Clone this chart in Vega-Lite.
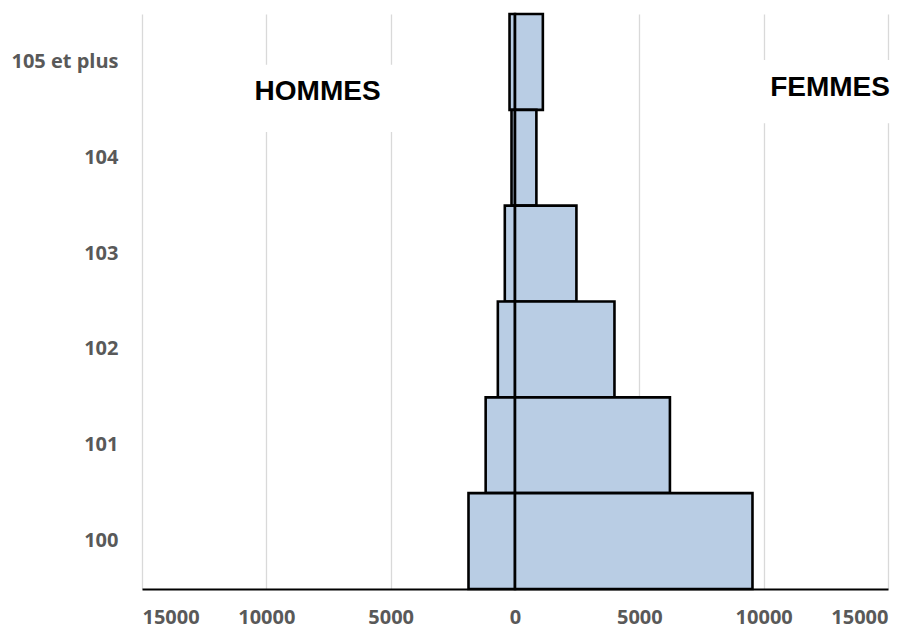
{
  "$schema": "https://vega.github.io/schema/vega-lite/v6.json",
  "autosize": "none",
  "width": 746,
  "height": 575,
  "padding": {"left": 142, "top": 14, "right": 32, "bottom": 40},
  "background": "white",
  "config": {"view": {"stroke": null}},
  "datasets": {
    "pop": [
      {"age": "105 et plus", "sexe": "Hommes", "effectif": -220},
      {"age": "105 et plus", "sexe": "Femmes", "effectif": 1120},
      {"age": "104", "sexe": "Hommes", "effectif": -140},
      {"age": "104", "sexe": "Femmes", "effectif": 860},
      {"age": "103", "sexe": "Hommes", "effectif": -410},
      {"age": "103", "sexe": "Femmes", "effectif": 2470},
      {"age": "102", "sexe": "Hommes", "effectif": -690},
      {"age": "102", "sexe": "Femmes", "effectif": 4000},
      {"age": "101", "sexe": "Hommes", "effectif": -1180},
      {"age": "101", "sexe": "Femmes", "effectif": 6230},
      {"age": "100", "sexe": "Hommes", "effectif": -1870},
      {"age": "100", "sexe": "Femmes", "effectif": 9550}
    ],
    "labels": [
      {"label": "HOMMES", "x": -7940, "x0": -10900, "x1": -4700, "y": 5.19, "y0": 4.77, "y1": 5.47},
      {"label": "FEMMES", "x": 12670, "x0": 9800, "x1": 15300, "y": 5.23, "y0": 4.86, "y1": 5.52}
    ]
  },
  "layer": [
    {
      "data": {"name": "pop"},
      "mark": {"type": "bar", "fill": "#b9cde4", "stroke": "#000000", "strokeWidth": 2.6},
      "encoding": {
        "y": {
          "field": "age", "type": "nominal",
          "sort": ["105 et plus", "104", "103", "102", "101", "100"],
          "scale": {"paddingInner": 0, "paddingOuter": 0},
          "axis": {
            "title": null, "domain": false, "ticks": false, "grid": false,
            "labelFont": "Open Sans", "labelFontWeight": "bold", "labelFontSize": 20,
            "labelColor": "#595959", "labelPadding": 24
          }
        },
        "x": {
          "field": "effectif", "type": "quantitative", "stack": null,
          "scale": {"domain": [-15000, 15000], "nice": false, "zero": true},
          "axis": {
            "title": null,
            "values": [-15000, -10000, -5000, 0, 5000, 10000, 15000],
            "labelExpr": "format(abs(datum.value), 'd')",
            "labelFont": "Open Sans", "labelFontWeight": "bold", "labelFontSize": 20,
            "labelColor": "#595959", "labelPadding": 18,
            "ticks": false,
            "domainColor": "#000000", "domainWidth": 2,
            "grid": true, "gridColor": "#d9d9d9", "gridWidth": 1.3
          }
        }
      }
    },
    {
      "data": {"name": "labels"},
      "mark": {"type": "rect", "fill": "white", "stroke": null},
      "encoding": {
        "x": {"field": "x0", "type": "quantitative"},
        "x2": {"field": "x1"},
        "y": {"field": "y0", "type": "quantitative", "scale": {"domain": [0, 6], "nice": false, "zero": false}, "axis": null},
        "y2": {"field": "y1"}
      }
    },
    {
      "data": {"name": "labels"},
      "mark": {"type": "text", "font": "Liberation Sans", "fontWeight": "bold", "fontSize": 28, "color": "#000000", "align": "center", "baseline": "middle"},
      "encoding": {
        "x": {"field": "x", "type": "quantitative"},
        "y": {"field": "y", "type": "quantitative", "scale": {"domain": [0, 6], "nice": false, "zero": false}, "axis": null},
        "text": {"field": "label"}
      }
    }
  ],
  "resolve": {"scale": {"y": "independent"}}
}
